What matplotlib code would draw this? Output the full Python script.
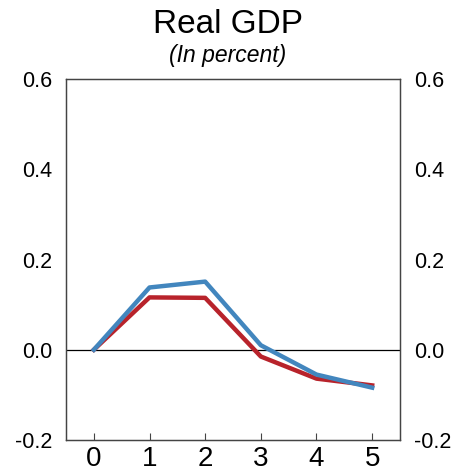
import matplotlib
matplotlib.use("Agg")
from matplotlib import pyplot as plt

plt.rcParams['font.family'] = ['Liberation Sans', 'DejaVu Sans']

# horizon (years) and responses
years = [0, 1, 2, 3, 4, 5]
red_series = [0.0, 0.116, 0.115, -0.015, -0.064, -0.079]
blue_series = [0.0, 0.138, 0.151, 0.010, -0.055, -0.084]
y_ticks = [-0.2, 0.0, 0.2, 0.4, 0.6]
y_labels = ["-0.2", "0.0", "0.2", "0.4", "0.6"]

fig = plt.figure(figsize=(4.56, 4.75), dpi=100)
ax = fig.add_axes([66 / 456, 1 - 440 / 475, (400 - 66) / 456, (440 - 79) / 475])

ax.axhline(0, color="black", linewidth=0.9, zorder=1)
ax.plot(years, red_series, color="#B8232B", linewidth=3.2, zorder=2)
ax.plot(years, blue_series, color="#4286BE", linewidth=3.2, zorder=3)

ax.set_xlim(-0.5, 5.5)
ax.set_ylim(-0.2, 0.6)
ax.set_xticks(years)
ax.set_xticklabels([str(y) for y in years], fontsize=20)
ax.tick_params(axis="x", direction="in", length=5, pad=4, color="#444444")
ax.set_yticks(y_ticks)
ax.set_yticklabels(y_labels, fontsize=15.5)
ax.tick_params(axis="y", length=0, pad=10)

ax2 = ax.twinx()
ax2.set_ylim(-0.2, 0.6)
ax2.set_yticks(y_ticks)
ax2.set_yticklabels(y_labels, fontsize=15.5)
ax2.tick_params(axis="y", length=0, pad=10)

for a in (ax, ax2):
    for s in a.spines.values():
        s.set_color("#444444")
        s.set_linewidth(0.9)

fig.text(0.5, 1 - 33 / 475, "Real GDP", ha="center", va="baseline", fontsize=24)
fig.text(0.5, 1 - 62 / 475, "(In percent)", ha="center", va="baseline",
         fontsize=16.5, style="italic")

fig.savefig("out.png", dpi=100)
